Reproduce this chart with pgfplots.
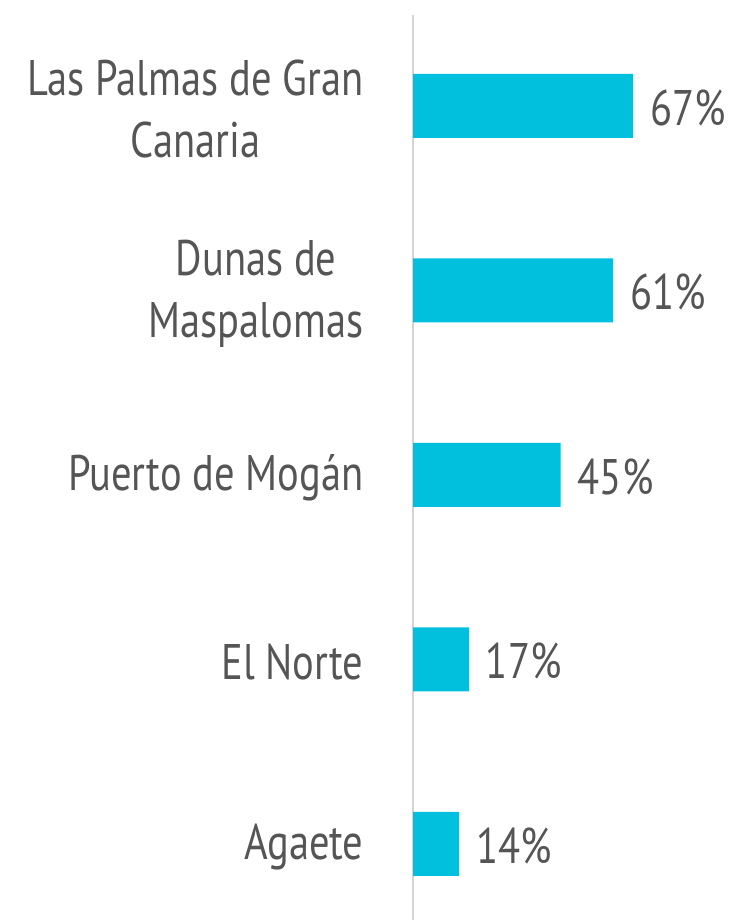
\documentclass[border=0pt]{standalone}
\usepackage{fontspec}
\setmainfont{PT Sans}[FakeStretch=0.81]
\usepackage{pgfplots}
\pgfplotsset{compat=1.18}
\definecolor{barcyan}{RGB}{0,192,222}
\definecolor{txtgray}{RGB}{85,85,85}
\definecolor{axgray}{RGB}{212,212,212}
\begin{document}
\begin{tikzpicture}
\useasboundingbox (0,0) rectangle (730pt,920pt);
\begin{axis}[
  at={(413pt,0pt)}, anchor=south west,
  scale only axis, width=317pt, height=905pt,
  xmin=0, xmax=96.6, ymin=-0.412, ymax=4.493,
  axis x line=none, axis y line=left,
  y axis line style={-, draw=axgray, line width=2pt},
  ytick={0,1,2,3,4}, ytick style={draw=none},
  yticklabels={Agaete, El Norte, Puerto de Mogán, {Dunas de\\Maspalomas}, {Las Palmas de Gran\\Canaria}},
  yticklabel style={align=center, anchor=east, inner sep=0pt, xshift=-45pt, yshift=-3pt, text=txtgray, font=\fontsize{50}{62}\selectfont},
  xbar, bar width=64pt, bar shift=0pt,
  clip=false,
  point meta=explicit symbolic,
  nodes near coords,
  nodes near coords style={anchor=west, inner sep=0pt, xshift=17pt, yshift=-2pt, text=txtgray, font=\fontsize{50}{60}\selectfont},
]
\addplot[fill=barcyan, draw=none] coordinates {
  (14,0) [14\%]
  (17,1) [17\%]
  (45,2) [45\%]
  (61,3) [61\%]
  (67,4) [67\%]
};
\end{axis}
\end{tikzpicture}
\end{document}
